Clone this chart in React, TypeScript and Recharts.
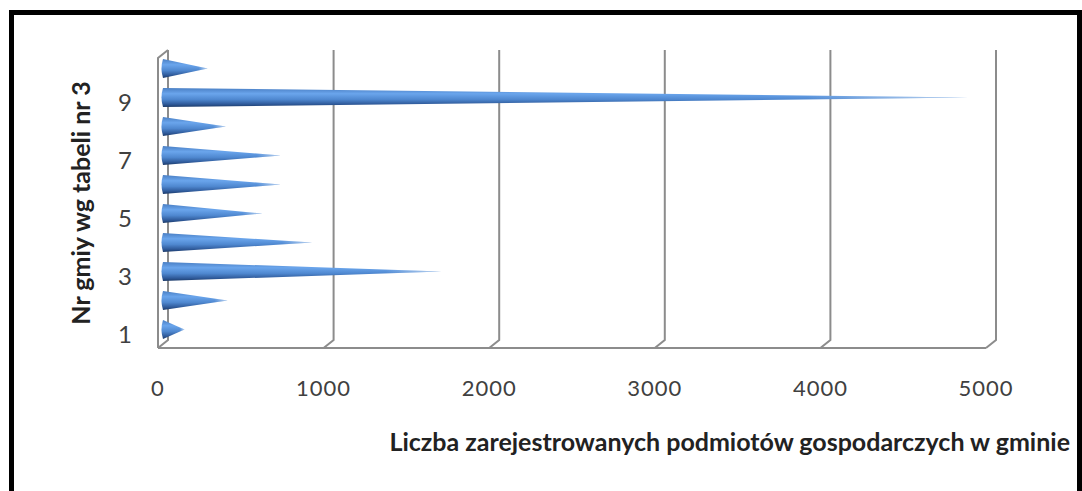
import React from 'react';
import { BarChart, Bar, XAxis, YAxis, CartesianGrid } from 'recharts';

const gminy = ['1', '2', '3', '4', '5', '6', '7', '8', '9', '10'];
const podmioty = [130, 390, 1680, 900, 600, 710, 710, 380, 4860, 270];
const xTicks = [0, 1000, 2000, 3000, 4000, 5000];
const yLabels = ['1', '3', '5', '7', '9'];

const chartData = gminy.map((nr, i) => ({ nr, val: podmioty[i] }));

const WALL = '#8c8c8c';
const DEPTH_X = 5;
const DEPTH_Y = 4;
const FONT = 'Lato';

// cone lying on its side, rounded base on the left
const Cone = (props: any) => {
  const { x, y, width, height } = props;
  const mid = y + height / 2;
  const d = `M${x} ${y} L${x + width} ${mid} L${x} ${y + height} Q${x - 3} ${mid} ${x} ${y} Z`;
  return (
    <g>
      <path d={d} fill="url(#coneBody)" />
      <path d={d} fill="url(#coneFade)" />
    </g>
  );
};

// back wall line plus the slant to the floor, the first one also gets the front wall
const WallLine = (props: any) => {
  const { x1, y1, y2, index } = props;
  const back = x1 + DEPTH_X;
  const front = x1 - DEPTH_X;
  const top = y1 - DEPTH_Y;
  const bottom = y2 + DEPTH_Y;
  const isFirst = index === 0;
  return (
    <path
      d={
        `M${back} ${top} L${back} ${y2 - DEPTH_Y} L${front} ${bottom}` +
        (isFirst ? ` M${back} ${top} L${front} ${y1 + DEPTH_Y} L${front} ${bottom}` : '')
      }
      fill="none"
      stroke={WALL}
      strokeWidth={2}
    />
  );
};

const ValueTick = (props: any) => {
  const { x, payload, plotBottom } = props;
  return (
    <text
      x={x - DEPTH_X}
      y={plotBottom + 52}
      textAnchor="middle"
      fontFamily={FONT}
      fontSize={22}
      letterSpacing={1}
      fill="#404040"
    >
      {payload.value}
    </text>
  );
};

const GminaTick = (props: any) => {
  const { y, payload } = props;
  if (!yLabels.includes(payload.value)) return null;
  return (
    <text x={125} y={y + 13} textAnchor="middle" fontFamily={FONT} fontSize={24} fill="#404040">
      {payload.value}
    </text>
  );
};

const plotTop = 54;
const plotBottom = 344;

export default function App() {
  return (
    <div
      style={{
        position: 'absolute',
        left: 0,
        top: 0,
        width: 1082,
        height: 491,
        overflow: 'hidden',
        background: '#fff',
      }}
    >
      <div
        style={{
          position: 'absolute',
          left: 9,
          top: 10,
          width: 1073,
          height: 481,
          boxSizing: 'border-box',
          borderLeft: '5px solid #000',
          borderTop: '5px solid #000',
          borderRight: '5px solid #000',
        }}
      />
      <BarChart
        width={1082}
        height={491}
        layout="vertical"
        data={chartData}
        barSize={19}
        margin={{ top: plotTop, right: 91, bottom: 0, left: 0 }}
        style={{ position: 'absolute', left: 0, top: 0 }}
      >
        <defs>
          <linearGradient id="coneBody" x1="0" y1="0" x2="0" y2="1">
            <stop offset="0%" stopColor="#4a7fc4" />
            <stop offset="30%" stopColor="#6aa5ec" />
            <stop offset="60%" stopColor="#4f88d0" />
            <stop offset="85%" stopColor="#2f5a9a" />
            <stop offset="100%" stopColor="#1c3a68" />
          </linearGradient>
          <linearGradient id="coneFade" x1="0" y1="0" x2="1" y2="0">
            <stop offset="80%" stopColor="#fff" stopOpacity={0} />
            <stop offset="100%" stopColor="#fff" stopOpacity={0.6} />
          </linearGradient>
        </defs>
        <CartesianGrid horizontal={false} vertical={(p: any) => <WallLine key={p.key} {...p} />} />
        <XAxis
          type="number"
          domain={[0, 5000]}
          ticks={xTicks}
          height={491 - plotBottom}
          axisLine={{ stroke: WALL, strokeWidth: 2, transform: `translate(${-DEPTH_X}, ${DEPTH_Y})` }}
          tickLine={false}
          interval={0}
          tick={<ValueTick plotBottom={plotBottom} />}
          label={{
            value: 'Liczba zarejestrowanych podmiotów gospodarczych w gminie',
            position: 'insideBottomRight',
            offset: 0,
            dx: 79,
            dy: -40,
            fontFamily: FONT,
            fontWeight: 700,
            fontSize: 25,
            fill: '#222',
          }}
        />
        <YAxis
          type="category"
          dataKey="nr"
          reversed
          width={163}
          interval={0}
          tickLine={false}
          axisLine={false}
          tick={<GminaTick />}
          label={{
            value: 'Nr gmiy wg tabeli nr 3',
            angle: -90,
            position: 'insideLeft',
            offset: 81,
            dy: 4,
            textAnchor: 'middle',
            fontFamily: FONT,
            fontWeight: 700,
            fontSize: 25,
            fill: '#222',
          }}
        />
        <Bar dataKey="val" shape={<Cone />} isAnimationActive={false} />
      </BarChart>
    </div>
  );
}
